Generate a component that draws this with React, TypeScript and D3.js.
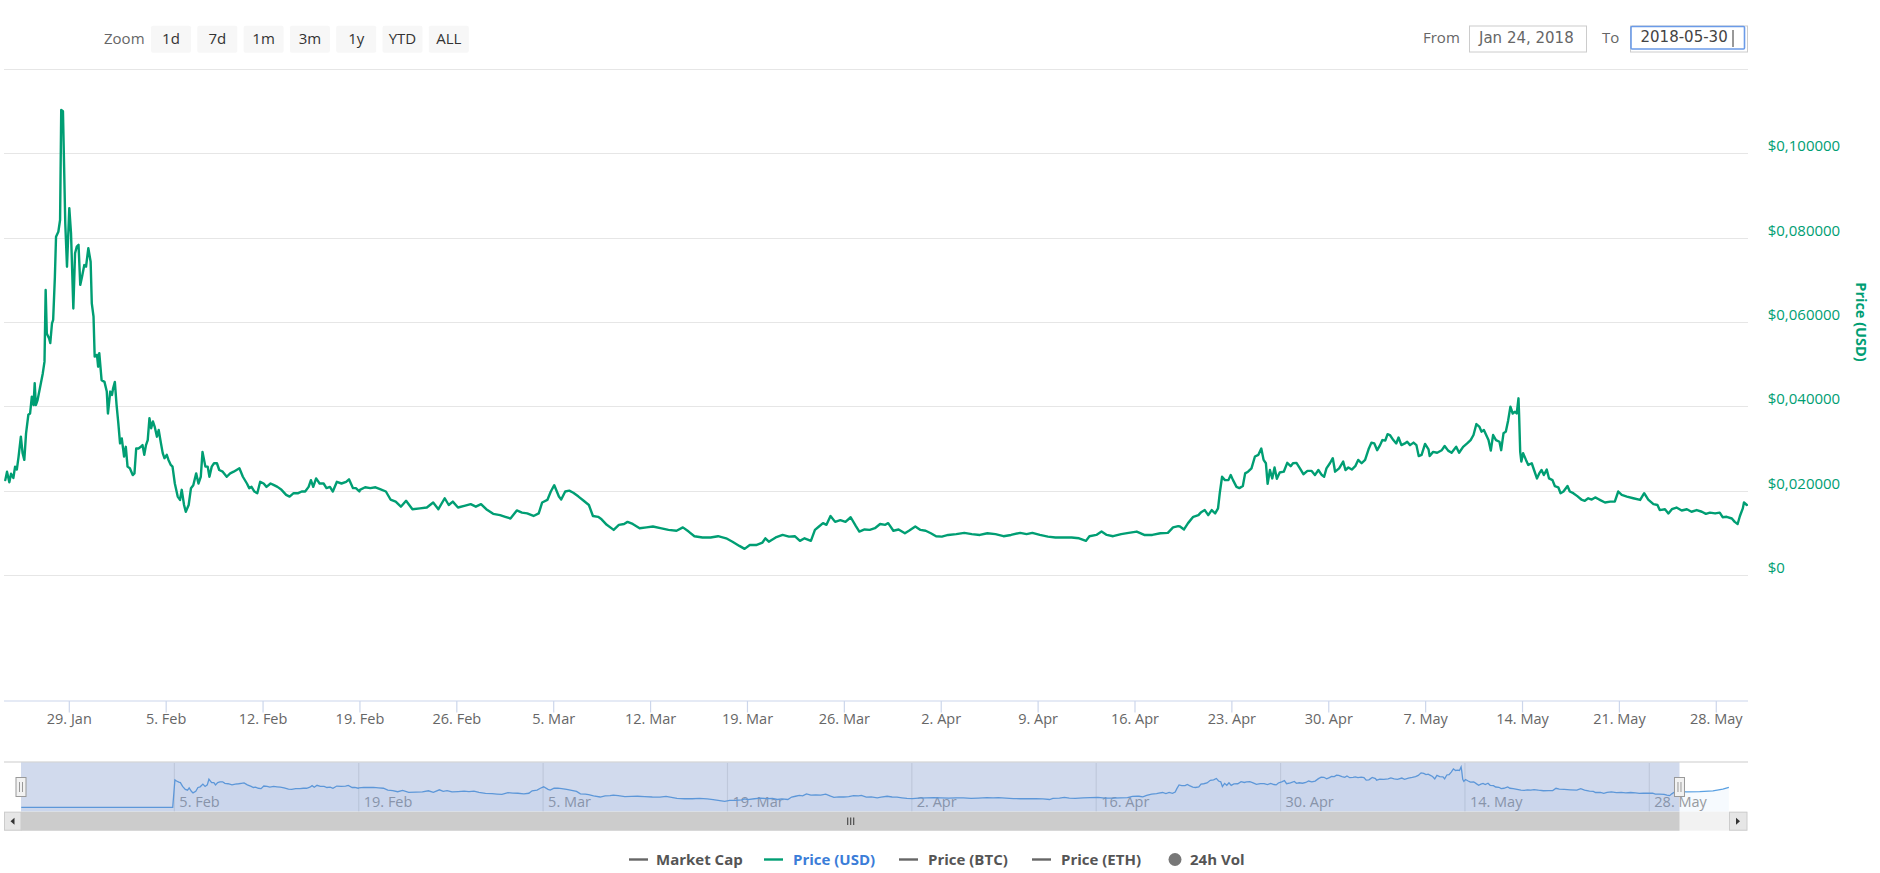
import React from 'react'
import * as d3 from 'd3'

type Row = [string, number]

// ---- data ----
const zoomButtons = ['1d', '7d', '1m', '3m', '1y', 'YTD', 'ALL']
const rangeFrom = 'Jan 24, 2018'
const rangeTo = '2018-05-30'
const priceTicks = [0, 0.02, 0.04, 0.06, 0.08, 0.1, 0.12]
const navTickDates = ['02-05', '02-19', '03-05', '03-19', '04-02', '04-16', '04-30', '05-14', '05-28']
const legendNames = ['Market Cap', 'Price (USD)', 'Price (BTC)', 'Price (ETH)', '24h Vol']
const legendSymbolColors = ['#666666', '#009e73', '#666666', '#666666', '#777777']
const legendTextColors = ['#555555', '#3b7dd8', '#555555', '#555555', '#555555']

const priceJanFeb: Row[] = [
    ['01-24 09', 0.0225], ['01-24 12', 0.0245], ['01-24 16', 0.022], ['01-24 19', 0.024], ['01-24 23', 0.023],
    ['01-25 02', 0.0257], ['01-25 05', 0.025], ['01-25 08', 0.028], ['01-25 12', 0.0328], ['01-25 15', 0.0289], ['01-25 18', 0.0273], ['01-25 21', 0.0336],
    ['01-26 01', 0.038], ['01-26 04', 0.0383], ['01-26 07', 0.0423], ['01-26 10', 0.0403], ['01-26 12', 0.0455], ['01-26 14', 0.0403], ['01-26 17', 0.0415], ['01-26 21', 0.0443],
    ['01-27 02', 0.0478], ['01-27 05', 0.0506], ['01-27 07', 0.0676], ['01-27 09', 0.0573], ['01-27 13', 0.0561], ['01-27 15', 0.055], ['01-27 18', 0.0597], ['01-27 20', 0.0605], ['01-27 23', 0.0707],
    ['01-28 01', 0.0802], ['01-28 05', 0.0814], ['01-28 08', 0.0842], ['01-28 10', 0.1103], ['01-28 13', 0.11], ['01-28 15', 0.0968], ['01-28 17', 0.0834], ['01-28 20', 0.0731],
    ['01-29 00', 0.087], ['01-29 03', 0.081], ['01-29 07', 0.0632], ['01-29 10', 0.0763], ['01-29 13', 0.0779], ['01-29 16', 0.0783], ['01-29 19', 0.0688], ['01-29 22', 0.0707],
    ['01-30 02', 0.0735], ['01-30 05', 0.0731], ['01-30 09', 0.0775], ['01-30 13', 0.0743], ['01-30 15', 0.0644], ['01-30 18', 0.0613], ['01-30 20', 0.0518],
    ['01-31 00', 0.0522], ['01-31 02', 0.0494], ['01-31 04', 0.0526], ['01-31 08', 0.0462], ['01-31 13', 0.0458], ['01-31 17', 0.0435], ['01-31 19', 0.0383], ['01-31 23', 0.0435],
    ['02-01 02', 0.0427], ['02-01 04', 0.0443], ['02-01 07', 0.0458], ['02-01 10', 0.0403], ['02-01 13', 0.036], ['02-01 16', 0.0312], ['02-01 19', 0.0324], ['02-01 23', 0.0281],
    ['02-02 02', 0.0304], ['02-02 05', 0.0257], ['02-02 09', 0.0253], ['02-02 14', 0.0237], ['02-02 17', 0.0241], ['02-02 20', 0.03],
    ['02-03 00', 0.03], ['02-03 04', 0.0304], ['02-03 07', 0.0308], ['02-03 10', 0.0285], ['02-03 13', 0.0308], ['02-03 16', 0.032], ['02-03 19', 0.0372], ['02-03 22', 0.0348],
    ['02-04 01', 0.0364], ['02-04 04', 0.0352], ['02-04 08', 0.0328], ['02-04 11', 0.0344], ['02-04 15', 0.0312], ['02-04 18', 0.0289], ['02-04 21', 0.0277],
    ['02-05 01', 0.0285], ['02-05 04', 0.0273], ['02-05 08', 0.0261], ['02-05 11', 0.0257], ['02-05 15', 0.0217], ['02-05 20', 0.0186],
    ['02-06 00', 0.0178], ['02-06 03', 0.0202], ['02-06 07', 0.0166], ['02-06 10', 0.015], ['02-06 15', 0.0166], ['02-06 19', 0.0206], ['02-06 23', 0.0213],
    ['02-07 04', 0.0241], ['02-07 08', 0.0217], ['02-07 12', 0.0233], ['02-07 15', 0.0292], ['02-07 20', 0.0257],
    ['02-08 00', 0.0257], ['02-08 03', 0.0233], ['02-08 07', 0.0257], ['02-08 11', 0.0265], ['02-08 16', 0.0265], ['02-08 20', 0.0249],
    ['02-09 02', 0.0245], ['02-09 09', 0.0233], ['02-09 15', 0.0241], ['02-09 21', 0.0245],
    ['02-10 02', 0.0249], ['02-10 07', 0.0253], ['02-10 13', 0.0233], ['02-10 20', 0.0217],
    ['02-11 00', 0.0206], ['02-11 04', 0.0209], ['02-11 09', 0.0198], ['02-11 14', 0.0194], ['02-11 19', 0.0221],
    ['02-12 01', 0.0217], ['02-12 06', 0.0209], ['02-12 13', 0.0217], ['02-12 19', 0.0213],
    ['02-13 01', 0.0209], ['02-13 08', 0.0202], ['02-13 16', 0.019], ['02-13 22', 0.0186],
    ['02-14 05', 0.0194], ['02-14 13', 0.0194], ['02-14 19', 0.0198],
    ['02-15 01', 0.0198], ['02-15 07', 0.0209], ['02-15 11', 0.0225], ['02-15 15', 0.0209], ['02-15 20', 0.0229],
    ['02-16 02', 0.0217], ['02-16 09', 0.0217], ['02-16 14', 0.0206], ['02-16 20', 0.0209],
    ['02-17 01', 0.0198], ['02-17 08', 0.0221], ['02-17 16', 0.0217],
    ['02-18 00', 0.0221], ['02-18 05', 0.0227], ['02-18 12', 0.0206], ['02-18 17', 0.0206], ['02-18 23', 0.0198],
]

const priceFebApr: Row[] = [
    ['02-19 00', 0.0202], ['02-19 09', 0.0208], ['02-19 18', 0.0206], ['02-20 03', 0.0208], ['02-20 12', 0.0203], ['02-20 21', 0.0198],
    ['02-21 05', 0.0179], ['02-21 14', 0.0174], ['02-21 23', 0.0162], ['02-22 08', 0.0176], ['02-22 19', 0.0156],
    ['02-23 08', 0.0158], ['02-23 20', 0.016], ['02-24 07', 0.0172], ['02-24 16', 0.0156],
    ['02-25 03', 0.0182], ['02-25 10', 0.0166], ['02-25 17', 0.0174], ['02-26 02', 0.016], ['02-26 13', 0.0164],
    ['02-27 00', 0.0168], ['02-27 09', 0.0162], ['02-27 18', 0.0168], ['02-28 03', 0.0156], ['02-28 15', 0.0145],
    ['03-01 03', 0.0142], ['03-01 12', 0.0138], ['03-01 21', 0.0134], ['03-02 08', 0.0153], ['03-02 17', 0.0148],
    ['03-03 02', 0.0146], ['03-03 13', 0.014], ['03-03 22', 0.0146], ['03-04 04', 0.0172], ['03-04 13', 0.0178], ['03-04 19', 0.0198],
    ['03-05 01', 0.0213], ['03-05 09', 0.0186], ['03-05 13', 0.0179], ['03-05 20', 0.0198],
    ['03-06 03', 0.02], ['03-06 10', 0.0195], ['03-06 19', 0.0186], ['03-07 04', 0.0176], ['03-07 13', 0.0166], ['03-07 20', 0.014],
    ['03-08 05', 0.0138], ['03-08 11', 0.0132], ['03-08 20', 0.0119], ['03-09 08', 0.0107], ['03-09 17', 0.0119],
    ['03-10 02', 0.0121], ['03-10 08', 0.0126], ['03-10 17', 0.0121], ['03-11 05', 0.0111], ['03-11 17', 0.0113],
    ['03-12 04', 0.0115], ['03-12 17', 0.0111], ['03-13 07', 0.0107], ['03-13 21', 0.0105],
    ['03-14 08', 0.0113], ['03-14 18', 0.0103], ['03-15 04', 0.0092], ['03-15 18', 0.0089],
    ['03-16 08', 0.0089], ['03-16 21', 0.0092], ['03-17 11', 0.0087], ['03-17 22', 0.0079],
    ['03-18 10', 0.0069], ['03-18 19', 0.0062], ['03-19 04', 0.0071], ['03-19 15', 0.0071],
    ['03-20 02', 0.0077], ['03-20 07', 0.0087], ['03-20 13', 0.0079], ['03-21 01', 0.0089], ['03-21 13', 0.0095],
    ['03-22 00', 0.0091], ['03-22 10', 0.0092], ['03-22 19', 0.0081], ['03-23 03', 0.0087], ['03-23 14', 0.0081], ['03-23 21', 0.0107],
    ['03-24 04', 0.0115], ['03-24 11', 0.0123], ['03-24 17', 0.0119], ['03-25 00', 0.014], ['03-25 08', 0.0126], ['03-25 17', 0.013],
    ['03-26 02', 0.0126], ['03-26 11', 0.0137], ['03-26 20', 0.0116], ['03-27 02', 0.0103], ['03-27 11', 0.0108], ['03-27 20', 0.0107],
    ['03-28 05', 0.0111], ['03-28 14', 0.0121], ['03-28 23', 0.0119], ['03-29 04', 0.0123], ['03-29 13', 0.0105], ['03-29 22', 0.0108],
    ['03-30 09', 0.0099], ['03-30 16', 0.0105], ['03-31 03', 0.0115], ['03-31 12', 0.0107], ['03-31 21', 0.0105],
    ['04-01 06', 0.0099], ['04-01 15', 0.0092], ['04-02 01', 0.0091], ['04-02 12', 0.0095],
    ['04-03 02', 0.0097], ['04-03 16', 0.01], ['04-04 05', 0.0097], ['04-04 19', 0.0095],
    ['04-05 08', 0.0099], ['04-05 22', 0.0097], ['04-06 12', 0.0092], ['04-07 01', 0.0095], ['04-07 17', 0.01],
    ['04-08 04', 0.0097], ['04-08 14', 0.01], ['04-09 03', 0.0095], ['04-09 17', 0.0091],
    ['04-10 06', 0.0089], ['04-10 20', 0.0089], ['04-11 10', 0.0089], ['04-11 23', 0.0087],
    ['04-12 11', 0.0081], ['04-12 17', 0.0092], ['04-13 05', 0.0095], ['04-13 14', 0.0103], ['04-13 23', 0.0095],
    ['04-14 10', 0.0092], ['04-15 00', 0.0097], ['04-15 13', 0.01], ['04-16 03', 0.0103], ['04-16 16', 0.0095],
    ['04-17 06', 0.0095], ['04-17 20', 0.0099], ['04-18 09', 0.01], ['04-18 18', 0.0113], ['04-19 03', 0.0116],
]

const priceAprMay: Row[] = [
    ['04-19 06', 0.0115], ['04-19 13', 0.0108], ['04-19 20', 0.0123], ['04-20 05', 0.0138], ['04-20 14', 0.0142], ['04-20 18', 0.0148],
    ['04-21 01', 0.0154], ['04-21 07', 0.0142], ['04-21 13', 0.0154], ['04-21 19', 0.0146],
    ['04-22 00', 0.0158], ['04-22 03', 0.0194], ['04-22 07', 0.0233], ['04-22 12', 0.0225], ['04-22 18', 0.0225], ['04-22 22', 0.0237],
    ['04-23 02', 0.0225], ['04-23 08', 0.0209], ['04-23 13', 0.0206], ['04-23 19', 0.0211], ['04-23 23', 0.0241],
    ['04-24 04', 0.0245], ['04-24 10', 0.0253], ['04-24 16', 0.0281], ['04-24 22', 0.0285],
    ['04-25 03', 0.03], ['04-25 07', 0.0273], ['04-25 11', 0.0265], ['04-25 14', 0.0216], ['04-25 18', 0.0249], ['04-25 22', 0.0229],
    ['04-26 02', 0.0255], ['04-26 06', 0.0228], ['04-26 11', 0.0243], ['04-26 18', 0.0245],
    ['04-27 00', 0.0266], ['04-27 06', 0.0258], ['04-27 10', 0.0265], ['04-27 16', 0.0266], ['04-27 22', 0.0253],
    ['04-28 04', 0.0239], ['04-28 11', 0.0247], ['04-28 18', 0.0247],
    ['04-29 00', 0.0237], ['04-29 06', 0.0249], ['04-29 12', 0.0237], ['04-29 16', 0.0233], ['04-29 20', 0.0253],
    ['04-30 02', 0.0265], ['04-30 07', 0.0277], ['04-30 11', 0.0245], ['04-30 18', 0.0253],
    ['05-01 01', 0.0269], ['05-01 05', 0.0249], ['05-01 10', 0.0255], ['05-01 16', 0.025], ['05-01 22', 0.0258],
    ['05-02 03', 0.0273], ['05-02 09', 0.0265], ['05-02 15', 0.0273], ['05-02 21', 0.0298],
    ['05-03 02', 0.0314], ['05-03 07', 0.0312], ['05-03 12', 0.0296], ['05-03 17', 0.0308], ['05-03 21', 0.032],
    ['05-04 02', 0.0319], ['05-04 06', 0.0334], ['05-04 10', 0.0332], ['05-04 16', 0.032], ['05-04 21', 0.0312],
    ['05-05 01', 0.0326], ['05-05 06', 0.0308], ['05-05 12', 0.0312], ['05-05 16', 0.0316], ['05-05 21', 0.0308],
    ['05-06 03', 0.0314], ['05-06 08', 0.0308], ['05-06 12', 0.0282], ['05-06 17', 0.0285], ['05-06 23', 0.0311],
    ['05-07 05', 0.0298], ['05-07 07', 0.0282], ['05-07 13', 0.0292], ['05-07 20', 0.029],
    ['05-08 04', 0.0296], ['05-08 09', 0.0306], ['05-08 15', 0.0295], ['05-08 21', 0.029],
    ['05-09 05', 0.0304], ['05-09 10', 0.029], ['05-09 17', 0.0304],
    ['05-10 00', 0.0312], ['05-10 06', 0.032], ['05-10 11', 0.0332], ['05-10 16', 0.0358], ['05-10 21', 0.0352],
    ['05-11 01', 0.034], ['05-11 05', 0.0344], ['05-11 09', 0.0332], ['05-11 13', 0.032], ['05-11 17', 0.0295], ['05-11 21', 0.0332],
    ['05-12 02', 0.032], ['05-12 08', 0.0316], ['05-12 11', 0.0296], ['05-12 15', 0.0336], ['05-12 19', 0.034], ['05-12 23', 0.0366],
    ['05-13 03', 0.0399], ['05-13 07', 0.0383], ['05-13 11', 0.0387], ['05-13 14', 0.0383], ['05-13 17', 0.0419], ['05-13 18', 0.0383], ['05-13 20', 0.0292], ['05-13 22', 0.0269],
    ['05-14 01', 0.0289], ['05-14 06', 0.0273], ['05-14 10', 0.0261], ['05-14 16', 0.0265], ['05-14 20', 0.0249],
    ['05-15 01', 0.0229], ['05-15 05', 0.0241], ['05-15 09', 0.0249], ['05-15 13', 0.0237], ['05-15 18', 0.025], ['05-15 22', 0.0229],
    ['05-16 04', 0.0225], ['05-16 08', 0.0211], ['05-16 14', 0.0208], ['05-16 18', 0.0194], ['05-16 23', 0.0198],
    ['05-17 06', 0.0211], ['05-17 10', 0.0198], ['05-17 16', 0.0194], ['05-17 23', 0.0187],
    ['05-18 06', 0.0179], ['05-18 12', 0.0176], ['05-18 18', 0.0182], ['05-19 00', 0.0179], ['05-19 06', 0.0184], ['05-19 13', 0.0179],
]

const priceLateMay: Row[] = [
    ['05-19 14', 0.0178], ['05-19 23', 0.0172], ['05-20 08', 0.0174], ['05-20 16', 0.0174], ['05-20 22', 0.0198],
    ['05-21 04', 0.019], ['05-21 13', 0.0186], ['05-22 00', 0.0182], ['05-22 12', 0.0178], ['05-22 19', 0.0194],
    ['05-23 02', 0.0179], ['05-23 11', 0.0168], ['05-23 18', 0.0166], ['05-23 22', 0.0154],
    ['05-24 07', 0.0156], ['05-24 13', 0.0146], ['05-24 19', 0.0156],
    ['05-25 03', 0.016], ['05-25 12', 0.0153], ['05-25 21', 0.0156],
    ['05-26 05', 0.015], ['05-26 14', 0.0154], ['05-26 23', 0.015],
    ['05-27 06', 0.0145], ['05-27 13', 0.0148], ['05-27 22', 0.0146],
    ['05-28 06', 0.0148], ['05-28 11', 0.0137], ['05-28 18', 0.0138],
    ['05-29 03', 0.0134], ['05-29 08', 0.0126], ['05-29 13', 0.0121], ['05-29 17', 0.014], ['05-29 22', 0.0158],
    ['05-30 00', 0.0172], ['05-30 05', 0.0166],
]

// navigator: flat before 5 Feb, then the price, then a few days past the selection
const navFlat: Row[] = [['01-24 09', 0], ['02-04 21', 0]]
const navTail: Row[] = [['05-30 20', 0.016], ['05-31 20', 0.0163], ['06-01 20', 0.017], ['06-02 14', 0.019], ['06-03 01', 0.0208]]

// ---- layout ----
const W = 1880
const H = 873
const FONT = "'Open Sans', sans-serif"
const plotLeft = 4
const plotRight = 1748
const navTop = 762
const navBottom = 811.7
const navLeft = 21
const navRight = 1729
const btnX0 = 151
const btnStep = 46.3
const legendSymbolX = [629, 764, 899, 1032, 1175]
const legendTextX = [656, 793, 928, 1061, 1190]

const parse = d3.timeParse('%Y-%m-%d %H')
const toPoints = (rows: Row[]) => rows.map(([t, v]) => ({date: parse('2018-' + t) as Date, value: v}))

export default function App() {
    const price = toPoints([...priceJanFeb, ...priceFebApr, ...priceAprMay, ...priceLateMay])
    const start = new Date(2018, 0, 24, 8, 30)
    const end = new Date(2018, 4, 30, 7, 0)

    const x = d3.scaleTime().domain([start, end]).range([5, plotRight])
    const y = d3.scaleLinear().domain([0, 0.12]).range([575, 69])

    const line = d3.line<{date: Date, value: number}>()
        .x(d => x(d.date))
        .y(d => y(d.value))

    const weekTicks = d3.timeMonday.range(start, end)
    const fmtDay = d3.timeFormat('%-d. %b')
    const fmtPrice = (v: number) => v === 0 ? '$0' : '$' + v.toFixed(6).replace('.', ',')

    // navigator
    const navData = [
        ...toPoints(navFlat),
        ...price.filter(d => d.date >= new Date(2018, 1, 4, 22)),
        ...toPoints(navTail),
    ]
    const xN = d3.scaleTime().domain([start, new Date(2018, 5, 3, 1, 15)]).range([navLeft, navRight])
    const yN = d3.scaleLinear().domain([0, d3.max(navData, d => d.value) as number]).range([807.3, 767])
    const navLine = d3.line<{date: Date, value: number}>().x(d => xN(d.date)).y(d => yN(d.value))
    const navArea = d3.area<{date: Date, value: number}>().x(d => xN(d.date)).y0(navBottom).y1(d => yN(d.value))
    const navTicks = navTickDates.map(s => parse('2018-' + s + ' 00') as Date)
    const maskL = navLeft
    const maskR = xN(end)
    const thumbMid = (maskL + maskR) / 2

    const handle = (hx: number) => (
        <g key={hx}>
            <rect x={hx - 5} y={777.5} width={10} height={19} fill="#f2f2f2" stroke="#999999" strokeWidth={1}/>
            <line x1={hx - 1.5} x2={hx - 1.5} y1={782} y2={792} stroke="#999999"/>
            <line x1={hx + 1.5} x2={hx + 1.5} y1={782} y2={792} stroke="#999999"/>
        </g>
    )

    return (
        <div style={{position: 'absolute', left: 0, top: 0}}>
            <svg width={W} height={H} style={{display: 'block', background: '#ffffff'}} fontFamily={FONT}>
                {/* range selector */}
                <text x={104} y={44} fontSize={15} fill="#666666">Zoom</text>
                {zoomButtons.map((b, i) => (
                    <g key={b}>
                        <rect x={btnX0 + i * btnStep} y={25.7} width={40} height={27} rx={2} fill="#f7f7f7"/>
                        <text x={btnX0 + i * btnStep + 20} y={43.5} fontSize={15} fill="#333333" textAnchor="middle">{b}</text>
                    </g>
                ))}
                <text x={1423} y={43.3} fontSize={15} fill="#666666">From</text>
                <rect x={1469.5} y={26} width={117} height={26} fill="#ffffff" stroke="#cccccc"/>
                <text x={1479} y={43} fontSize={15} fill="#666666" fontFamily="'DejaVu Sans', sans-serif">{rangeFrom}</text>
                <text x={1602} y={43.3} fontSize={15} fill="#666666">To</text>
                <rect x={1630.5} y={26} width={117} height={26} fill="#ffffff" stroke="#cccccc"/>
                <rect x={1631} y={26.5} width={113.5} height={22.5} rx={1} fill="none" stroke="#6b9be8" strokeWidth={1.6}/>
                <text x={1640.5} y={42.3} fontSize={15} fill="#444444" fontFamily="'DejaVu Sans', sans-serif">{rangeTo}</text>
                <line x1={1733} x2={1733} y1={30} y2={47} stroke="#333333"/>

                {/* grid */}
                {priceTicks.map(t => (
                    <line key={t} x1={plotLeft} x2={plotRight} y1={Math.round(y(t)) + 0.5} y2={Math.round(y(t)) + 0.5}
                          stroke="#e6e6e6" strokeWidth={1.2}/>
                ))}
                {priceTicks.filter(t => t < 0.12).map(t => (
                    <text key={'l' + t} x={1767.7} y={y(t) - 2} fontSize={15} fill="#009e73">{fmtPrice(t)}</text>
                ))}
                <text transform="translate(1861,322) rotate(90)" textAnchor="middle" dominantBaseline="central"
                      fontSize={14.5} fontWeight="bold" fill="#009e73">Price (USD)</text>

                {/* x axis */}
                <line x1={plotLeft} x2={plotRight} y1={701} y2={701} stroke="#ccd6eb" strokeWidth={1.2}/>
                {weekTicks.map(t => (
                    <g key={+t}>
                        <line x1={x(t)} x2={x(t)} y1={701} y2={712.5} stroke="#ccd6eb" strokeWidth={1.2}/>
                        <text x={x(t)} y={724.3} fontSize={14.5} fill="#666666" textAnchor="middle">{fmtDay(t)}</text>
                    </g>
                ))}

                {/* price line */}
                <path d={line(price) || ''} fill="none" stroke="#009e73" strokeWidth={2.4}
                      strokeLinejoin="round" strokeLinecap="round"/>

                {/* navigator */}
                <line x1={plotLeft} x2={plotRight} y1={navTop} y2={navTop} stroke="#cccccc" strokeWidth={1.2}/>
                {navTicks.map(t => (
                    <g key={'n' + +t}>
                        <line x1={xN(t)} x2={xN(t)} y1={navTop} y2={navBottom} stroke="#e6e6e6" strokeWidth={1.2}/>
                        <text x={xN(t) + 5} y={807} fontSize={14.5} fill="#999999">{fmtDay(t)}</text>
                    </g>
                ))}
                <path d={navArea(navData) || ''} fill="#7cb5ec" fillOpacity={0.07}/>
                <path d={navLine(navData) || ''} fill="none" stroke="#5aa0e2" strokeWidth={1.3}/>
                <rect x={maskL} y={navTop + 0.5} width={maskR - maskL} height={navBottom - navTop - 0.5}
                      fill="rgba(102,133,194,0.3)"/>
                {handle(maskL)}
                {handle(maskR)}

                {/* scrollbar */}
                <rect x={plotLeft} y={navBottom} width={1743} height={19} fill="#f2f2f2"/>
                <rect x={maskL} y={navBottom} width={maskR - maskL} height={19} fill="#cccccc"/>
                {[-3, 0, 3].map(o => (
                    <line key={o} x1={thumbMid + o + 0.5} x2={thumbMid + o + 0.5} y1={817.5} y2={825} stroke="#333333"/>
                ))}
                <rect x={plotLeft + 0.5} y={navBottom + 0.5} width={16.5} height={18} fill="#e6e6e6" stroke="#cccccc"/>
                <path d="M14.5,817.7 L10.5,821.2 L14.5,824.7 Z" fill="#333333"/>
                <rect x={navRight + 0.5} y={navBottom + 0.5} width={17.5} height={18} fill="#e6e6e6" stroke="#cccccc"/>
                <path d="M1736,817.7 L1740,821.2 L1736,824.7 Z" fill="#333333"/>

                {/* legend */}
                {legendNames.map((name, i) => (
                    <g key={name}>
                        {i < 4
                            ? <line x1={legendSymbolX[i]} x2={legendSymbolX[i] + 19} y1={859.5} y2={859.5}
                                    stroke={legendSymbolColors[i]} strokeWidth={2.4}/>
                            : <circle cx={legendSymbolX[i]} cy={859.5} r={6.5} fill={legendSymbolColors[i]}/>}
                        <text x={legendTextX[i]} y={864.5} fontSize={15} fontWeight="bold"
                              fill={legendTextColors[i]}>{name}</text>
                    </g>
                ))}
            </svg>
        </div>
    )
}
